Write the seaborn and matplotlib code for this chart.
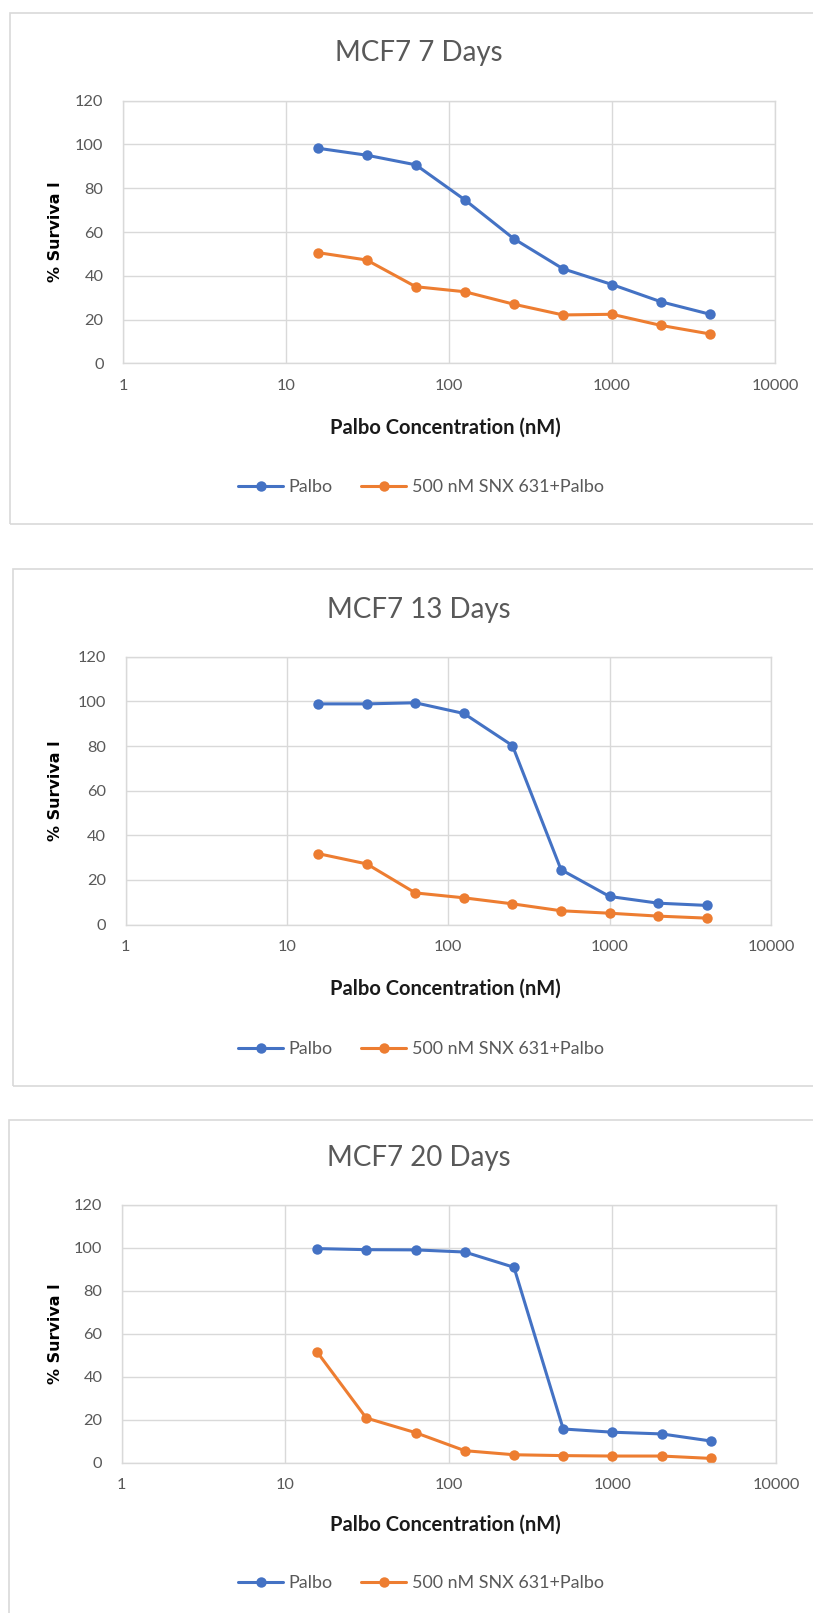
import matplotlib
matplotlib.use("Agg")
import matplotlib.pyplot as plt
from matplotlib.patches import Rectangle
from matplotlib.ticker import NullLocator
import seaborn as sns
import pandas as pd

# ---------------- data ----------------
concentration = [15.625, 31.25, 62.5, 125, 250, 500, 1000, 2000, 4000]
series_names = ["Palbo", "500 nM SNX 631+Palbo"]
titles = ["MCF7 7 Days", "MCF7 13 Days", "MCF7 20 Days"]

palbo_7d = [98.3, 95.1, 90.7, 74.7, 56.9, 43.2, 36.0, 28.1, 22.4]
snx_7d = [50.6, 47.2, 35.0, 32.7, 27.0, 22.1, 22.4, 17.3, 13.4]

palbo_13d = [98.9, 98.9, 99.4, 94.6, 80.2, 24.6, 12.6, 9.6, 8.6]
snx_13d = [31.8, 27.2, 14.2, 12.0, 9.3, 6.2, 5.1, 3.8, 2.9]

palbo_20d = [99.7, 99.2, 99.1, 98.1, 91.0, 15.7, 14.2, 13.4, 10.1]
snx_20d = [51.6, 20.8, 14.0, 5.6, 3.7, 3.3, 3.1, 3.1, 2.0]

x_ticks = [1, 10, 100, 1000, 10000]
x_tick_labels = ["1", "10", "100", "1000", "10000"]
y_ticks = [0, 20, 40, 60, 80, 100, 120]
x_label = "Palbo Concentration (nM)"
y_label = "% Surviva l"

# ---------------- style ----------------
sns.set_style("white")
plt.rcParams["font.family"] = ["Lato", "DejaVu Sans"]

BLUE = "#4472C4"
ORANGE = "#ED7D31"
GRID = "#D9D9D9"
TEXT = "#595959"

W, H = 813, 1613
fig = plt.figure(figsize=(W / 100, H / 100), dpi=100)


def rect(l, r, t, b):
    return [l / W, 1 - b / H, (r - l) / W, (b - t) / H]


panels = [
    dict(palbo=palbo_7d, snx=snx_7d, title=titles[0],
         ax=(123, 775, 100.7, 363.3), border=(10, 12.8, 524),
         title_y=53, xlabel_y=427.6, legend_y=487),
    dict(palbo=palbo_13d, snx=snx_13d, title=titles[1],
         ax=(125.5, 771, 656.8, 924.6), border=(13, 568.6, 1086),
         title_y=609.6, xlabel_y=989, legend_y=1049),
    dict(palbo=palbo_20d, snx=snx_20d, title=titles[2],
         ax=(121.8, 776, 1205, 1462.7), border=(8.8, 1120, 1660),
         title_y=1158, xlabel_y=1525, legend_y=1583),
]

for p in panels:
    # chart border
    bl, bt, bb = p["border"]
    fig.patches.append(Rectangle((bl / W, 1 - bb / H), (840 - bl) / W, (bb - bt) / H,
                                 transform=fig.transFigure, fill=False,
                                 edgecolor=GRID, linewidth=1.2, zorder=0))

    l, r, t, b = p["ax"]
    ax = fig.add_axes(rect(l, r, t, b))

    df = pd.DataFrame({
        "conc": concentration * 2,
        "survival": p["palbo"] + p["snx"],
        "series": [series_names[0]] * len(concentration) + [series_names[1]] * len(concentration),
    })
    sns.lineplot(data=df, x="conc", y="survival", hue="series",
                 hue_order=series_names, palette=[BLUE, ORANGE],
                 marker="o", markersize=7.5, markeredgewidth=0,
                 linewidth=2.2, legend=False, ax=ax)

    ax.set_xscale("log")
    ax.set_xlim(1, 10000)
    ax.set_ylim(0, 120)
    ax.set_xticks(x_ticks)
    ax.set_xticklabels(x_tick_labels)
    ax.xaxis.set_minor_locator(NullLocator())
    ax.set_yticks(y_ticks)
    ax.grid(True, color=GRID, linewidth=1)
    ax.set_axisbelow(True)
    for s in ax.spines.values():
        s.set_color(GRID)
        s.set_linewidth(1)
    ax.tick_params(axis="both", length=0, labelsize=11.8, labelcolor=TEXT)
    ax.tick_params(axis="x", pad=11)
    ax.tick_params(axis="y", pad=14)

    ax.set_xlabel(x_label, fontsize=14.5, fontweight="bold", color="#1a1a1a")
    ax.xaxis.label.set_va("center")
    ax.xaxis.set_label_coords((445 - l) / (r - l), -(p["xlabel_y"] - b) / (b - t))
    ax.set_ylabel(y_label, fontsize=11.5, fontweight="bold", color="black",
                  family="DejaVu Sans")
    ax.yaxis.label.set_va("center")
    ax.yaxis.set_label_coords((55 - l) / (r - l), 0.5)

    fig.text(419 / W, 1 - p["title_y"] / H, p["title"], ha="center", va="center",
             fontsize=20, color=TEXT)

    handles = ax.get_lines()[:2]
    fig.legend(handles, series_names, loc="center",
               bbox_to_anchor=(421 / W, 1 - p["legend_y"] / H),
               ncol=2, frameon=False, fontsize=12.9, labelcolor=TEXT,
               handlelength=2.5, handletextpad=0.3, columnspacing=1.6,
               numpoints=1)

fig.savefig("out.png", dpi=100, facecolor="white")
